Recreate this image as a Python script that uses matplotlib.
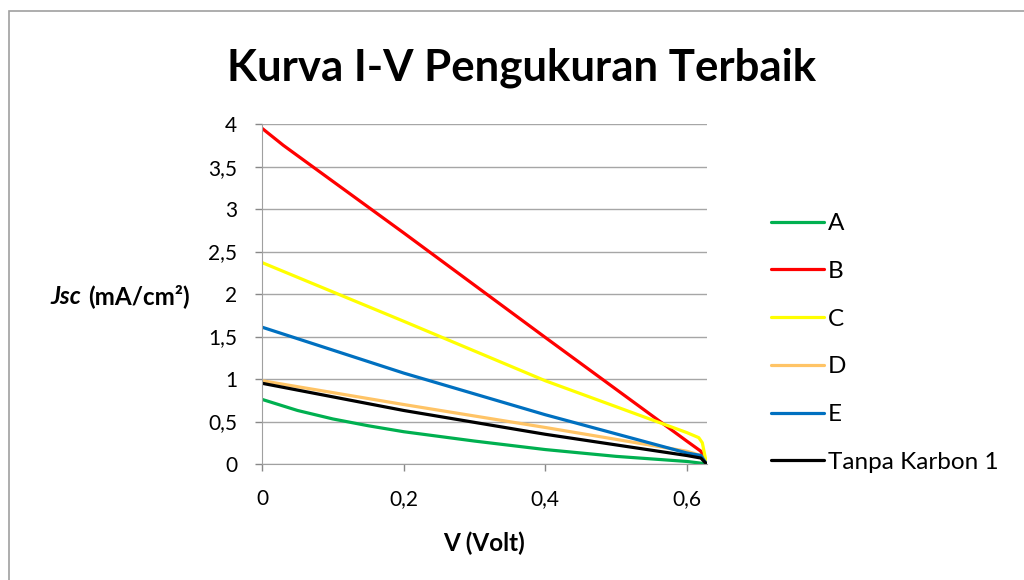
import matplotlib.pyplot as plt
from matplotlib.patches import Rectangle
from matplotlib.ticker import FuncFormatter

plt.rcParams['font.family'] = ['Lato', 'DejaVu Sans']

# Data (V in volt, Jsc in mA/cm2)
v_a = [0.0, 0.05, 0.1, 0.15, 0.2, 0.3, 0.4, 0.5, 0.6, 0.62, 0.628]
j_a = [0.76, 0.63, 0.53, 0.45, 0.38, 0.27, 0.17, 0.09, 0.03, 0.01, 0.0]

v_b = [0.0, 0.03, 0.2, 0.4, 0.6, 0.62, 0.628]
j_b = [3.95, 3.75, 2.72, 1.49, 0.27, 0.15, 0.0]

v_c = [0.0, 0.2, 0.4, 0.6, 0.617, 0.622, 0.628]
j_c = [2.37, 1.68, 0.98, 0.37, 0.31, 0.25, 0.0]

v_d = [0.0, 0.2, 0.4, 0.6, 0.62, 0.628]
j_d = [0.98, 0.70, 0.43, 0.15, 0.10, 0.0]

v_e = [0.0, 0.2, 0.4, 0.6, 0.62, 0.628]
j_e = [1.61, 1.07, 0.58, 0.13, 0.10, 0.0]

v_k = [0.0, 0.2, 0.4, 0.6, 0.62, 0.628]
j_k = [0.95, 0.63, 0.35, 0.10, 0.07, 0.0]

labels = ["A", "B", "C", "D", "E", "Tanpa Karbon 1"]
colors = ["#00B050", "#FF0000", "#FFFF00", "#FFC466", "#0070C0", "#000000"]
series = [(v_a, j_a), (v_b, j_b), (v_c, j_c), (v_d, j_d), (v_e, j_e), (v_k, j_k)]

fig = plt.figure(figsize=(10.24, 5.8), dpi=100)
ax = fig.add_axes([0.256, 0.2, 0.434, 0.586])

for (v, j), lab, c in zip(series, labels, colors):
    ax.plot(v, j, color=c, lw=2.3, label=lab, solid_capstyle="round")

ax.set_xlim(0, 0.628)
ax.set_ylim(0, 4)
ax.set_xticks([0, 0.2, 0.4, 0.6])
ax.set_yticks([0, 0.5, 1, 1.5, 2, 2.5, 3, 3.5, 4])
fmt = FuncFormatter(lambda x, p: ("%g" % round(x, 2)).replace(".", ","))
ax.xaxis.set_major_formatter(fmt)
ax.yaxis.set_major_formatter(fmt)
ax.tick_params(labelsize=15, colors="#888888", labelcolor="black", length=5, width=1)
ax.tick_params(axis="y", pad=13)
ax.tick_params(axis="x", pad=13)

ax.grid(axis="y", color="#A6A6A6", lw=1)
ax.set_axisbelow(True)
for s in ["top", "right"]:
    ax.spines[s].set_visible(False)
for s in ["left", "bottom"]:
    ax.spines[s].set_color("#A0A0A0")

ax.set_xlabel("V (Volt)", fontsize=17.5, fontweight="bold", labelpad=16)

fig.text(81 / 1024, 1 - 296 / 580, "Jsc", fontsize=17.5, fontweight="bold",
         fontstyle="italic", ha="right", va="center")
fig.text(190 / 1024, 1 - 296 / 580, "(mA/cm²)", fontsize=17.5, fontweight="bold",
         ha="right", va="center")

fig.text(522 / 1024, 1 - 68 / 580, "Kurva I-V Pengukuran Terbaik", fontsize=31.5,
         fontweight="bold", ha="center", va="center")

fig.legend(loc="upper left", bbox_to_anchor=(771 / 1024, 1 - 213 / 580), frameon=False,
           fontsize=17.5, handlelength=2.18, handletextpad=0.16, labelspacing=1.1,
           borderpad=0, borderaxespad=0)

# chart-area border (only top and left edges visible in the crop)
fig.patches.append(Rectangle((9 / 1024, -0.1), 1.2, 1.1 - 11 / 580, transform=fig.transFigure,
                             fill=False, edgecolor="#A0A0A0", lw=1.2))

fig.savefig("out.png", dpi=100)
